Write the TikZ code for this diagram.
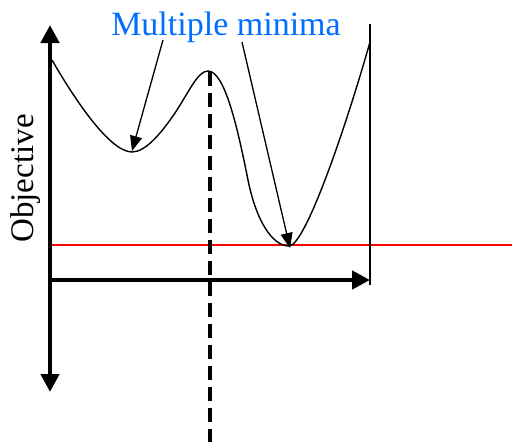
\documentclass[tikz,border=0pt]{standalone}
\usepackage{fontspec}
\setmainfont{Liberation Serif}
\usetikzlibrary{arrows.meta}
\definecolor{labelblue}{RGB}{0,110,255}
\tikzset{
  axis/.style={line width=4.5pt,-{Triangle[length=18pt,width=18pt]}},
  pointer/.style={line width=1.3pt,-{Triangle[length=15pt,width=12pt]}},
  curve/.style={line width=1.4pt},
}
\begin{document}
\begin{tikzpicture}[x=1pt,y=-1pt]
\useasboundingbox (0,0) rectangle (512,442);
% coordinates
\coordinate (ybot) at (50,392);
\coordinate (ytop) at (50,25);
\coordinate (orig) at (50,280);
\coordinate (xend) at (370,280);
\coordinate (rtop) at (370,24);
\coordinate (rbot) at (370,285);
\coordinate (dtop) at (210,72);
\coordinate (dbot) at (210,442);
\coordinate (redL) at (50,245);
\coordinate (redR) at (512,245);
\coordinate (min1) at (132,151);
\coordinate (min2) at (290,248);
\coordinate (p1) at (163,40);
\coordinate (p2) at (242,42);
% red line
\draw[red,line width=1.4pt] (redL) -- (redR);
% dashed line
\draw[line width=3.5pt,dash pattern=on 14pt off 7pt] (dtop) -- (dbot);
% right boundary
\draw[line width=1.5pt] (rtop) -- (rbot);
% axes
\draw[line width=4.5pt,{Triangle[length=18pt,width=18pt]}-{Triangle[length=18pt,width=18pt]}] (ybot) -- (ytop);
\draw[axis] (orig) -- (xend);
% curve
\draw[curve] (52,60) .. controls (75,100) and (110,152) .. (132,152)
  .. controls (145,152) and (160,135) .. (175,113)
  .. controls (190,90) and (198,71) .. (208,71)
  .. controls (225,71) and (238,130) .. (248,180)
  .. controls (256,220) and (272,246) .. (289,246)
  .. controls (305,246) and (345,130) .. (370,42);
% label
\node[text=labelblue,font=\fontsize{34}{40}\selectfont,anchor=base] (lbl) at (226,35) {Multiple minima};
\draw[pointer] (p1) -- (min1);
\draw[pointer] (p2) -- (min2);
% y label
\node[font=\fontsize{33}{40}\selectfont,rotate=90,anchor=base] (obj) at (33,178.5) {Objective};
\end{tikzpicture}
\end{document}
